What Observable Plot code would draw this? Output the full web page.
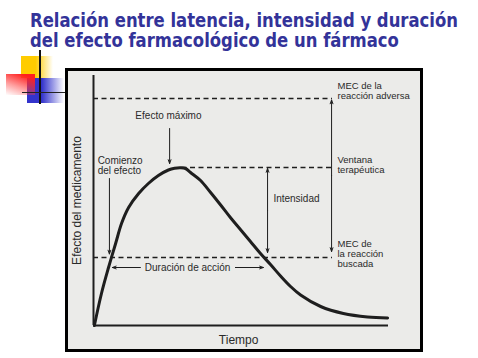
<!DOCTYPE html>
<html><head><meta charset="utf-8">
<script src="https://cdn.jsdelivr.net/npm/d3@7"></script>
<script src="https://cdn.jsdelivr.net/npm/@observablehq/plot@0.6"></script>
<style>
html,body{margin:0;padding:0;background:#fff;width:478px;height:358px;overflow:hidden;position:relative}
.sq{position:absolute}
#yellow{left:21px;top:56px;width:32px;height:22px;background:linear-gradient(to right,#ffcc00 45%,rgba(255,204,0,0))}
#blue{left:27px;top:78px;width:37px;height:25px;background:linear-gradient(to right,#3333cc 40%,rgba(51,51,204,0))}
#red{left:6px;top:74px;width:29px;height:21px;background:linear-gradient(200deg,#ff2020 15%,rgba(255,60,60,0.5) 60%,rgba(255,255,255,0))}
#vline{left:39px;top:50px;width:2px;height:54px;background:#111}
#hline{left:22px;top:91.5px;width:43px;height:1px;background:#222}
#box{position:absolute;left:65px;top:68px;width:358px;height:284px;box-sizing:border-box;border:3px solid #000;background:#ebebe9}
#title{position:absolute;left:30px;top:10px;font-family:'DejaVu Sans',sans-serif;font-weight:bold;font-size:19px;line-height:20px;color:#333399;white-space:nowrap;transform-origin:0 0}
#title div{display:block;width:max-content}
#chart{position:absolute;left:0;top:0}
</style></head><body>
<div id="yellow" class="sq"></div>
<div id="blue" class="sq"></div>
<div id="red" class="sq"></div>
<div id="vline" class="sq"></div>
<div id="hline" class="sq"></div>
<div id="box"></div>
<div id="title"><div id="t1">Relación entre latencia, intensidad y duración</div><div id="t2">del efecto farmacológico de un fármaco</div></div>
<div id="chart"></div>
<script>
// Curve: drug effect over time (arbitrary units: time 0-100, effect 0-100)
const curveTime   = [0.3, 2.7, 5.1, 7.5, 9.5, 11.9, 15.3, 18.6, 22, 25.4, 27.5, 29.5, 31.2, 32.9, 36.3, 39.7, 43.1, 46.4, 49.8, 53.2, 56.6, 60, 63.4, 66.8, 70.2, 77, 84.7, 92.9, 99.7];
const curveEffect = [0, 12.8, 23.2, 32.8, 40.8, 47.2, 52.8, 56.8, 60, 62.2, 62.9, 63.1, 62.8, 61.2, 58, 53.2, 48.2, 43.2, 38.4, 33.6, 28.8, 24.4, 19.8, 15.6, 12.2, 7.6, 4.8, 3.4, 3];

// Axis extents
const axisTime = [0, 100];
const axisEffect = [0, 100];

// Dashed reference levels
const levelNames  = ["MEC de la reacción adversa", "Ventana terapéutica", "MEC de la reacción buscada"];
const levelValues = [90.8, 63.2, 27.2];
const levelStart  = [0, 30, 0];
const levelEnd    = [81, 81, 81];

// Labels at the right of the levels
const sideLabels = ["MEC de la\nreacción adversa", "Ventana\nterapéutica", "MEC de\nla reacción\nbuscada"];
const sideLabelTime = [82.7, 82.7, 82.7];
const sideLabelEffect = [94, 64.2, 28.8];

// Annotation texts inside the chart
const noteTexts  = ["Efecto máximo", "Intensidad", "Duración de acción"];
const noteTime   = [25.4, 68.8, 31.9];
const noteEffect = [84, 50.8, 23.2];
const onsetText = "Comienzo\ndel efecto";
const onsetTime = 1.4, onsetEffect = 64;

// Axis titles
const xTitle = "Tiempo", xTitleTime = 49.2, xTitleEffect = -6;
const yTitle = "Efecto del medicamento", yTitleTime = -5.4, yTitleEffect = 50;

// Arrows (from -> to)
const arrowFromT = [25.8, 5.4, 59, 59, 80.7, 80.7, 15.9, 48.1];
const arrowFromE = [78.8, 58.8, 46, 46, 60, 60, 23.2, 23.2];
const arrowToT   = [25.8, 5.4, 59, 59, 80.7, 80.7, 6.4, 57.6];
const arrowToE   = [64.8, 28.6, 62.8, 29.2, 90.2, 29.6, 23.2, 23.2];

const curve = curveTime.map((t, i) => ({t, e: curveEffect[i]}));
const levels = levelNames.map((n, i) => ({n, v: levelValues[i], x1: levelStart[i], x2: levelEnd[i]}));
const sides = sideLabels.map((s, i) => ({s, t: sideLabelTime[i], e: sideLabelEffect[i]}));
const notes = noteTexts.map((s, i) => ({s, t: noteTime[i], e: noteEffect[i]}));
const arrows = arrowFromT.map((t, i) => ({x1: t, y1: arrowFromE[i], x2: arrowToT[i], y2: arrowToE[i]}));
const ink = "#1e1e1e", txt = "#2a2a2a";

const plot = Plot.plot({
  width: 478, height: 358,
  marginLeft: 93, marginRight: 90, marginTop: 75, marginBottom: 33,
  x: {domain: axisTime, axis: null},
  y: {domain: axisEffect, axis: null},
  style: {background: "transparent", overflow: "visible", fontFamily: "'Liberation Sans', Arial, sans-serif"},
  marks: [
    Plot.ruleY(levels, {y: "v", x1: "x1", x2: "x2", stroke: ink, strokeWidth: 1.5, strokeDasharray: "5,3.5"}),
    Plot.ruleX([{x: axisTime[0], y1: axisEffect[0], y2: axisEffect[1]}], {x: "x", y1: "y1", y2: "y2", stroke: ink, strokeWidth: 2}),
    Plot.ruleY([{y: axisEffect[0], x1: axisTime[0], x2: axisTime[1]}], {y: "y", x1: "x1", x2: "x2", stroke: ink, strokeWidth: 2}),
    Plot.line(curve, {x: "t", y: "e", curve: "catmull-rom", stroke: ink, strokeWidth: 3}),
    Plot.arrow(arrows, {x1: "x1", y1: "y1", x2: "x2", y2: "y2", stroke: ink, strokeWidth: 1, headLength: 6, headAngle: 40}),
    Plot.text(sides, {x: "t", y: "e", text: "s", textAnchor: "start", lineAnchor: "middle", lineHeight: 1.05, fontSize: 9.5, fill: txt}),
    Plot.text(notes, {x: "t", y: "e", text: "s", textAnchor: "middle", fontSize: 10, fill: txt}),
    Plot.text([{s: onsetText, t: onsetTime, e: onsetEffect}], {x: "t", y: "e", text: "s", textAnchor: "start", lineAnchor: "middle", lineHeight: 1.05, fontSize: 10, fill: txt}),
    Plot.text([{s: xTitle, t: xTitleTime, e: xTitleEffect}], {x: "t", y: "e", text: "s", fontSize: 12, fill: txt}),
    Plot.text([{s: yTitle, t: yTitleTime, e: yTitleEffect}], {x: "t", y: "e", text: "s", rotate: -90, fontSize: 12, fill: txt})
  ]
});
document.getElementById("chart").appendChild(plot);

// Fit the title lines to the reference width
const t1 = document.getElementById("t1");
const w = t1.getBoundingClientRect().width;
const s = 428 / w;
document.getElementById("title").style.transform = `scaleX(${s})`;
</script>
</body></html>
